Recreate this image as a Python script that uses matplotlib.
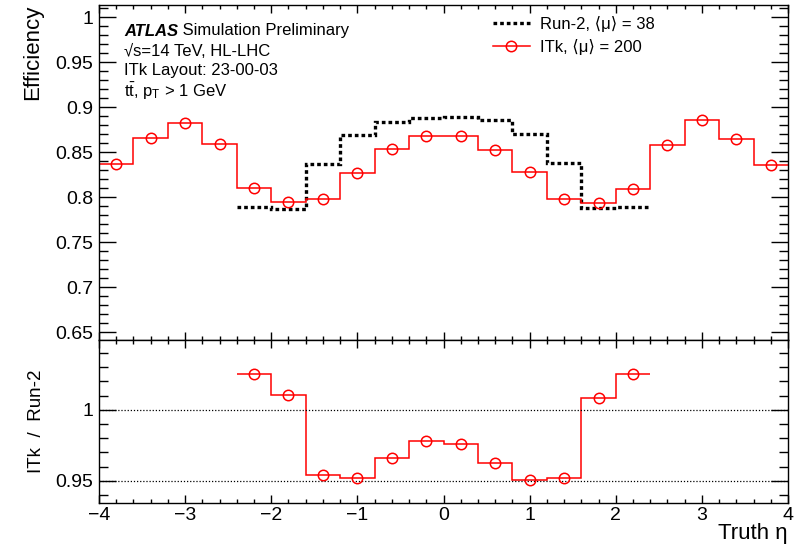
import numpy as np
import matplotlib
matplotlib.use('Agg')
import matplotlib.pyplot as plt
from matplotlib.lines import Line2D
from matplotlib.ticker import MultipleLocator

plt.rcParams['font.family'] = ['Liberation Sans', 'DejaVu Sans']
plt.rcParams['mathtext.fontset'] = 'custom'
plt.rcParams['mathtext.rm'] = 'Liberation Sans'
plt.rcParams['mathtext.it'] = 'Liberation Sans:italic'
plt.rcParams['axes.unicode_minus'] = True

# Bins in truth eta
itk_edges = np.linspace(-4, 4, 21)
run2_edges = np.linspace(-2.4, 2.4, 13)

# ITk, <mu> = 200
itk_eff = [0.837, 0.8655, 0.8826, 0.8588, 0.8098, 0.7953, 0.7986, 0.8272, 0.8532, 0.8677,
           0.8677, 0.8525, 0.8280, 0.7979, 0.7942, 0.8094, 0.8585, 0.8860, 0.8651, 0.8354]
# Run-2, <mu> = 38
run2_eff = [0.7893, 0.7868, 0.8370, 0.8692, 0.8833, 0.8878,
            0.8893, 0.8863, 0.8704, 0.8376, 0.7886, 0.7893]
# ITk / Run-2
ratio = [1.025, 1.0107, 0.9543, 0.9521, 0.9659, 0.9779,
         0.9759, 0.9624, 0.9505, 0.9521, 1.0086, 1.025]

itk_centers = 0.5 * (itk_edges[1:] + itk_edges[:-1])
run2_centers = 0.5 * (run2_edges[1:] + run2_edges[:-1])

red = '#ff0000'

fig = plt.figure(figsize=(7.94, 5.47), dpi=100)
W, H = 794, 547
x0, x1 = 99, 788
ax1 = fig.add_axes([x0 / W, 1 - 340 / H, (x1 - x0) / W, (340 - 5) / H])
ax2 = fig.add_axes([x0 / W, 1 - 503 / H, (x1 - x0) / W, (503 - 340) / H], sharex=ax1)

# top panel
ax1.stairs(run2_eff, run2_edges, baseline=None, color='black', lw=2.4,
           linestyle=(0, (1.1, 0.9)))
ax1.stairs(itk_eff, itk_edges, baseline=None, color=red, lw=1.1)
ax1.plot(itk_centers, itk_eff, 'o', ms=7.5, mfc='none', mec=red, mew=1.1)

ax1.set_xlim(-4, 4)
ax1.set_ylim(0.6414, 1.0137)
ax1.set_ylabel('Efficiency', fontsize=16, loc='top')
ax1.yaxis.set_label_coords(-0.081, 1.0)

# bottom panel
ax2.axhline(1.0, color='black', lw=0.9, linestyle=(0, (1, 1.5)))
ax2.axhline(0.95, color='black', lw=0.9, linestyle=(0, (1, 1.5)))
ax2.stairs(ratio, run2_edges, baseline=None, color=red, lw=1.1)
ax2.plot(run2_centers, ratio, 'o', ms=7.5, mfc='none', mec=red, mew=1.1)
ax2.set_ylim(0.9345, 1.049)
ax2.set_ylabel('ITk  /  Run-2', fontsize=13.5)
ax2.yaxis.set_label_coords(-0.078, 0.5)
ax2.set_xlabel('Truth η', fontsize=16, loc='right')
ax2.xaxis.set_label_coords(1.0, -0.125)

for ax in (ax1, ax2):
    ax.xaxis.set_major_locator(MultipleLocator(1))
    ax.xaxis.set_minor_locator(MultipleLocator(0.2))
    ax.yaxis.set_major_locator(MultipleLocator(0.05))
    ax.yaxis.set_minor_locator(MultipleLocator(0.01))
    ax.tick_params(which='both', direction='in', top=True, right=True, labelsize=14,
                   width=1.0, color='black')
    ax.tick_params(axis='y', which='major', length=12, pad=4)
    ax.tick_params(axis='y', which='minor', length=6.5)
    ax.tick_params(axis='x', which='major', length=6, pad=3)
    ax.tick_params(axis='x', which='minor', length=3)
    for s in ax.spines.values():
        s.set_linewidth(1.0)

ax1.tick_params(axis='x', labelbottom=False)
ax1.set_yticks([0.65, 0.7, 0.75, 0.8, 0.85, 0.9, 0.95, 1.0])
ax1.set_yticklabels(['0.65', '0.7', '0.75', '0.8', '0.85', '0.9', '0.95', '1'])
ax2.set_yticks([0.95, 1.0])
ax2.set_yticklabels(['0.95', '1'])

# ATLAS label
def yfrac(ypix):
    return 1 - (ypix - 5) / 335

tx = (124 - x0) / (x1 - x0)
t1 = ax1.text(tx, yfrac(31), 'ATLAS', transform=ax1.transAxes, fontsize=12,
              fontweight='bold', fontstyle='italic', va='center')
ax1.annotate(' Simulation Preliminary', xy=(1, 0), xycoords=t1, fontsize=12,
             va='bottom')
ax1.text(tx, yfrac(51), '√s=14 TeV, HL-LHC', transform=ax1.transAxes,
         fontsize=12, va='center')
ax1.text(tx, yfrac(71), 'ITk Layout: 23-00-03', transform=ax1.transAxes,
         fontsize=12, va='center')
ax1.text(tx, yfrac(91), r'$\mathrm{t\bar{t}}$, p$_\mathrm{T}$ > 1 GeV',
         transform=ax1.transAxes, fontsize=12, va='center')

# legend
handles = [
    Line2D([], [], color='black', lw=2.4, linestyle=(0, (1.1, 0.9))),
    Line2D([], [], color=red, lw=1.1, marker='o', ms=7.5, mfc='none', mec=red, mew=1.1),
]
labels = ['Run-2, ⟨μ⟩ = 38', 'ITk, ⟨μ⟩ = 200']
ax1.legend(handles, labels, loc='upper left',
           bbox_to_anchor=((493 - x0) / (x1 - x0), yfrac(16)),
           frameon=False, fontsize=12, handlelength=2.2, handletextpad=0.6,
           labelspacing=0.4, borderpad=0, borderaxespad=0)

fig.savefig('out.png', dpi=100)
